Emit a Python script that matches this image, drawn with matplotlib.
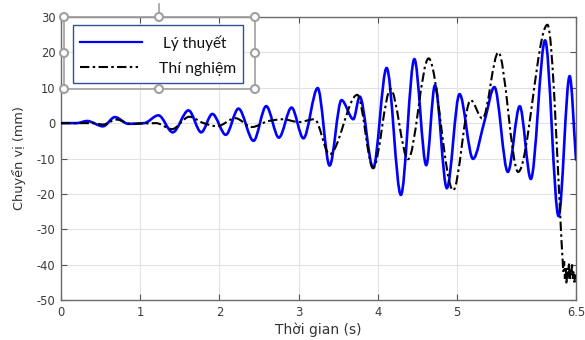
import numpy as np
import matplotlib
matplotlib.use("Agg")
import matplotlib.pyplot as plt
from matplotlib.path import Path
from matplotlib.patches import PathPatch, Rectangle, Ellipse
from matplotlib.lines import Line2D

# ---- data (extrema / key points) ----
theory_t = [0, 0.2, 0.33, 0.53, 0.68, 0.85, 1.05, 1.23, 1.41, 1.61, 1.77, 1.91, 2.08, 2.24,
            2.43, 2.59, 2.75, 2.91, 3.06, 3.24, 3.39, 3.54, 3.69, 3.77, 3.94, 4.11, 4.29,
            4.46, 4.61, 4.72, 4.87, 5.03, 5.20, 5.35, 5.47, 5.64, 5.79, 5.93, 6.11,
            6.28, 6.42, 6.5]
theory_y = [0, 0, 0.6, -0.9, 1.7, -0.2, 0, 2.2, -2.6, 3.6, -2.6, 2.6, -3.3, 4.1,
            -5.0, 4.8, -4.1, 4.4, -4.3, 9.9, -12.0, 6.5, 1.1, 7.5, -12.7, 15.6, -20.3,
            18.1, -11.9, 10.7, -18.4, 8.2, -10.1, 1.0, 10.2, -13.8, 4.8, -15.8, 23.4,
            -26.3, 13.3, -10.3]

exp_t = [0, 0.4, 0.53, 0.7, 0.88, 1.2, 1.4, 1.62, 1.8, 1.97, 2.2, 2.41, 2.62, 2.8, 3.0,
         3.2, 3.39, 3.74, 3.94, 4.16, 4.38, 4.64, 4.95, 5.17, 5.32, 5.52, 5.77, 6.14, 6.34]
exp_y = [0, 0, -0.4, 1.0, -0.2, 0, -1.7, 1.8, 0, -0.9, 1.4, -1.1, 0.6, 1.1, 0.3,
         1.1, -8.8, 8.0, -12.7, 9.6, -10.2, 18.3, -19.0, 6.5, 1.3, 20.0, -13.8, 27.8, -42.0]
# noisy tail of the experiment after failure
exp_tail_t = [6.35, 6.36, 6.37, 6.38, 6.39, 6.40, 6.41, 6.42, 6.43, 6.44, 6.45, 6.46,
              6.47, 6.48, 6.49, 6.5]
exp_tail_y = [-39.0, -44.0, -40.5, -45.5, -41.0, -43.5, -39.5, -44.5, -41.5, -43.0,
              -40.0, -44.0, -42.0, -45.0, -42.5, -44.0]

x_ticks = [0, 1, 2, 3, 4, 5, 6.5]
x_ticklabels = ["0", "1", "2", "3", "4", "5", "6.5"]
y_ticks = [-50, -40, -30, -20, -10, 0, 10, 20, 30]

series_names = ["Lý thuyết", "Thí nghiệm"]
x_label = "Thời gian (s)"
y_label = "Chuyển vị (mm)"


def smooth_path(t, y, tail_t=None, tail_y=None):
    """Piecewise cubic Hermite (monotone tangents) through the read points,
    rendered as Bezier segments by matplotlib."""
    t = np.asarray(t, float)
    y = np.asarray(y, float)
    h = np.diff(t)
    d = np.diff(y) / h
    n = len(t)
    m = np.zeros(n)
    for i in range(1, n - 1):
        if d[i - 1] * d[i] > 0:
            w1 = 2 * h[i] + h[i - 1]
            w2 = h[i] + 2 * h[i - 1]
            m[i] = (w1 + w2) / (w1 / d[i - 1] + w2 / d[i])
    m[-1] = d[-1]
    verts = [(t[0], y[0])]
    codes = [Path.MOVETO]
    for i in range(n - 1):
        verts += [(t[i] + h[i] / 3, y[i] + m[i] * h[i] / 3),
                  (t[i + 1] - h[i] / 3, y[i + 1] - m[i + 1] * h[i] / 3),
                  (t[i + 1], y[i + 1])]
        codes += [Path.CURVE4] * 3
    if tail_t is not None:
        for a, b in zip(tail_t, tail_y):
            verts.append((a, b))
            codes.append(Path.LINETO)
    return Path(verts, codes)


plt.rcParams['font.family'] = ['DejaVu Sans']
plt.rcParams['axes.unicode_minus'] = False

fig = plt.figure(figsize=(5.85, 3.4), dpi=100)
ax = fig.add_axes([61 / 585, 40 / 340, 515 / 585, 283 / 340])

dash = (0, (4.5, 1.6, 1.2, 1.6))
blue = PathPatch(smooth_path(theory_t, theory_y), fill=False, edgecolor='#0000ff',
                 linewidth=1.9, zorder=3, capstyle='round', joinstyle='round')
ax.add_patch(blue)
black = PathPatch(smooth_path(exp_t, exp_y, exp_tail_t, exp_tail_y), fill=False,
                  edgecolor='black', linewidth=1.5, zorder=4, linestyle=dash)
ax.add_patch(black)

ax.set_xlim(0, 6.5)
ax.set_ylim(-50, 30)
ax.set_xticks(x_ticks)
ax.set_xticklabels(x_ticklabels)
ax.set_yticks(y_ticks)
ax.grid(True, color='#e2e2e2', linewidth=0.8)
ax.set_axisbelow(True)
ax.tick_params(direction='in', length=4, width=0.8, colors='#555555',
               labelcolor='#3a3a3a', labelsize=8.3, top=True, right=True, pad=4)
for s in ax.spines.values():
    s.set_color('#6a6a6a')
    s.set_linewidth(1.0)
ax.set_xlabel(x_label, fontsize=10, color='#333333', labelpad=3)
ax.set_ylabel(y_label, fontsize=9.3, color='#333333', labelpad=8)

# ---- legend drawn as a selected text box (as in the reference) ----
W, H = 585.0, 340.0


def fx(px):
    return px / W


def fy(py):
    return 1 - py / H


gray = '#a0a0a0'
fig.add_artist(Rectangle((fx(64), fy(89)), fx(255) - fx(64), fy(17) - fy(89),
                         transform=fig.transFigure, fill=False, edgecolor=gray,
                         linewidth=1.2, zorder=10))
fig.add_artist(Rectangle((fx(73), fy(83)), fx(243) - fx(73), fy(25) - fy(83),
                         transform=fig.transFigure, facecolor='white',
                         edgecolor='#2f4f9f', linewidth=1.0, zorder=11))
fig.add_artist(Line2D([fx(159), fx(159)], [fy(4), fy(13)], transform=fig.transFigure,
                      color=gray, linewidth=1.2, zorder=10))
for px, py in [(64, 17), (159, 17), (255, 17), (64, 53), (255, 53),
               (64, 89), (159, 89), (255, 89)]:
    fig.add_artist(Ellipse((fx(px), fy(py)), 8 / W, 8 / H, transform=fig.transFigure,
                           facecolor='white', edgecolor=gray, linewidth=1.5, zorder=12))

fig.add_artist(Line2D([fx(80), fx(142)], [fy(42), fy(42)], transform=fig.transFigure,
                      color='#0000ff', linewidth=1.6, zorder=12))
fig.add_artist(Line2D([fx(80), fx(138)], [fy(67), fy(67)], transform=fig.transFigure,
                      color='black', linewidth=1.5, linestyle=dash, zorder=12))
fig.text(fx(163), fy(43), series_names[0], fontsize=11, family=['Lato', 'DejaVu Sans'],
         va='center', ha='left', color='#111111', zorder=13)
fig.text(fx(159), fy(69), series_names[1], fontsize=11.3, family=['Lato', 'DejaVu Sans'],
         va='center', ha='left', color='#111111', zorder=13)

fig.savefig('out.png', dpi=100)
